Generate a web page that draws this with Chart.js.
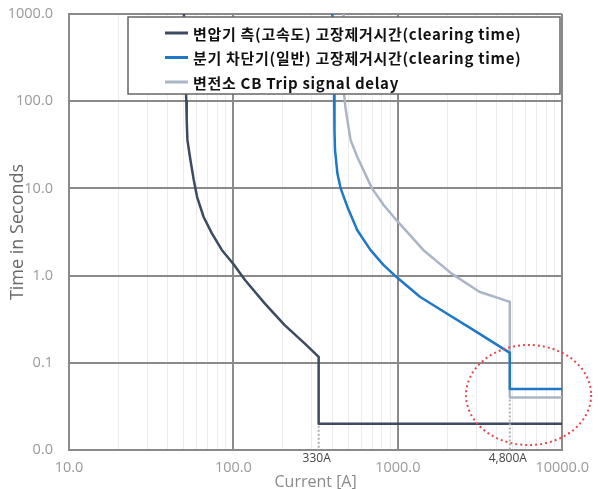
<!DOCTYPE html>
<html>
<head>
<meta charset="utf-8">
<script src="https://cdn.jsdelivr.net/npm/chart.js@4.4.1/dist/chart.umd.min.js"></script>
<style>
  html, body { margin: 0; padding: 0; background: #fff; }
</style>
</head>
<body>
<canvas id="tcc" width="598" height="489"></canvas>
<script>
// series names (legend)
const seriesLabels = [
  '변압기 측(고속도) 고장제거시간(clearing time)',
  '분기 차단기(일반) 고장제거시간(clearing time)',
  '변전소 CB Trip signal delay'
];

// [current A, time s]
const transformerCurve = [
  [50, 1000], [51.7, 100], [52, 60], [52.5, 36], [54.8, 21], [57.4, 12.5], [60.1, 8],
  [65.9, 4.7], [74, 3.05], [85, 1.97], [100, 1.36], [117.6, 0.89],
  [155, 0.48], [205, 0.27], [270, 0.168], [330, 0.117],
  [330, 0.02], [10000, 0.02]
];
const feederCurve = [
  [400, 1000], [410, 123], [412, 45], [415, 27.6], [429, 14.9], [449, 10], [493, 6.17],
  [566, 3.33], [681, 1.97], [820, 1.32], [986, 0.956], [1362, 0.573],
  [1973, 0.37], [2992, 0.2275], [4800, 0.13],
  [4800, 0.05], [10000, 0.05]
];
const tripDelayCurve = [
  [468, 1000], [471, 123], [480, 85], [493, 61], [516, 36], [566, 23.1], [697, 10],
  [820, 6.45], [1000, 4.15], [1428, 1.97], [2115, 1.06], [3131, 0.653],
  [4800, 0.5], [4800, 0.04], [10000, 0.04]
];

const xDecades = [10, 100, 1000, 10000];
const yDecades = [0.01, 0.1, 1, 10, 100, 1000];

// dotted current markers: current, lowest curve time at that current, label
const markerCurrents = [330, 4800];
const markerFrom = [0.02, 0.04];
const markerLabels = ['330A', '4,800A'];

// red dotted highlight around the low-time region (data bounds)
const highlightX = [2600, 15000];
const highlightY = [0.0114, 0.16];

const colors = ['#3d4b60', '#1f77c8', '#aab6c6'];
const toXY = arr => arr.map(p => ({ x: p[0], y: p[1] }));

const isDecade = v => Math.abs(Math.log10(v) - Math.round(Math.log10(v))) < 1e-6;

const legendBox = {
  id: 'legendBox',
  afterDatasetsDraw(chart) {
    const { ctx } = chart;
    ctx.save();
    ctx.fillStyle = '#fff';
    ctx.fillRect(128, 17, 432, 77);
    ctx.strokeStyle = '#666';
    ctx.lineWidth = 1.5;
    ctx.strokeRect(128, 17, 432, 77);
    ctx.font = 'bold 15px "Noto Sans CJK KR", "Noto Sans", sans-serif';
    ctx.letterSpacing = '0.7px';
    ctx.textBaseline = 'middle';
    chart.data.datasets.forEach((ds, i) => {
      const y = 33 + i * 24.5;
      ctx.strokeStyle = ds.borderColor;
      ctx.lineWidth = 3;
      ctx.beginPath();
      ctx.moveTo(165, y);
      ctx.lineTo(188, y);
      ctx.stroke();
      ctx.fillStyle = '#111';
      ctx.fillText(ds.label, 193, y + 1);
    });
    ctx.restore();
  }
};

const annotations = {
  id: 'annotations',
  afterDatasetsDraw(chart) {
    const { ctx, chartArea } = chart;
    const xs = chart.scales.x, ys = chart.scales.y;
    ctx.save();
    // markers
    markerCurrents.forEach((c, i) => {
      const px = xs.getPixelForValue(c);
      ctx.strokeStyle = '#b0b0b0';
      ctx.lineWidth = 2;
      ctx.setLineDash([2, 2]);
      ctx.beginPath();
      ctx.moveTo(px, ys.getPixelForValue(markerFrom[i]) + 2);
      ctx.lineTo(px, chartArea.bottom);
      ctx.stroke();
      ctx.setLineDash([]);
      ctx.fillStyle = '#444';
      ctx.font = '12px "Open Sans", sans-serif';
      ctx.textAlign = 'center';
      ctx.textBaseline = 'middle';
      ctx.fillText(markerLabels[i], px - 2, chartArea.bottom + 9);
    });
    // highlight ellipse
    const x1 = xs.getPixelForValue(highlightX[0]), x2 = xs.getPixelForValue(highlightX[1]);
    const y1 = ys.getPixelForValue(highlightY[1]), y2 = ys.getPixelForValue(highlightY[0]);
    ctx.strokeStyle = '#e8474a';
    ctx.lineWidth = 2;
    ctx.setLineDash([2, 3]);
    ctx.beginPath();
    ctx.ellipse((x1 + x2) / 2, (y1 + y2) / 2, (x2 - x1) / 2, (y2 - y1) / 2, 0, 0, Math.PI * 2);
    ctx.stroke();
    ctx.restore();
  }
};

new Chart(document.getElementById('tcc'), {
  type: 'line',
  data: {
    datasets: [
      { label: seriesLabels[0], data: toXY(transformerCurve), borderColor: colors[0] },
      { label: seriesLabels[1], data: toXY(feederCurve), borderColor: colors[1] },
      { label: seriesLabels[2], data: toXY(tripDelayCurve), borderColor: colors[2] }
    ]
  },
  options: {
    responsive: false,
    animation: false,
    devicePixelRatio: 1,
    layout: { padding: { left: 0, top: 14, right: 31, bottom: 0 } },
    elements: {
      line: { borderWidth: 2.5, tension: 0, fill: false, borderJoinStyle: 'round' },
      point: { radius: 0 }
    },
    plugins: {
      legend: { display: false },
      tooltip: { enabled: false }
    },
    scales: {
      x: {
        type: 'logarithmic',
        min: 10,
        max: 10000,
        afterBuildTicks(scale) {
          const t = [];
          for (let d = 10; d < 10000; d *= 10) {
            for (let m = 1; m < 10; m++) t.push({ value: d * m });
          }
          t.push({ value: 10000 });
          scale.ticks = t;
        },
        afterFit(scale) { scale.height = 39; },
        ticks: {
          autoSkip: false,
          maxRotation: 0,
          padding: 9,
          color: '#9a9a9a',
          font: { family: '"Open Sans", sans-serif', size: 14.5 },
          callback: v => (isDecade(v) && xDecades.includes(Math.round(v)) ? v.toFixed(1) : '')
        },
        grid: {
          drawTicks: false,
          color: c => (isDecade(c.tick.value) ? '#8a8a8a' : '#ececec'),
          lineWidth: c => (isDecade(c.tick.value) ? 2 : 1)
        },
        border: { color: '#8a8a8a', width: 2 },
        title: {
          display: true,
          text: 'Current [A]',
          color: '#8a8a8a',
          font: { family: '"Open Sans", sans-serif', size: 16 },
          padding: { top: 0, bottom: -3 }
        }
      },
      y: {
        type: 'logarithmic',
        min: 0.01,
        max: 1000,
        afterBuildTicks(scale) {
          scale.ticks = yDecades.map(v => ({ value: v }));
        },
        afterFit(scale) {
          scale.width = 69;
          scale.paddingTop = 8;
          scale.paddingBottom = 8;
        },
        ticks: {
          autoSkip: false,
          padding: 16,
          color: '#9a9a9a',
          font: { family: '"Open Sans", sans-serif', size: 14.5 },
          callback: v => v.toFixed(1)
        },
        grid: {
          drawTicks: false,
          color: '#8a8a8a',
          lineWidth: 2
        },
        border: { color: '#8a8a8a', width: 2 },
        title: {
          display: true,
          text: 'Time in Seconds',
          color: '#6a6a6a',
          font: { family: '"Open Sans", sans-serif', size: 18 },
          padding: { top: 7, bottom: 0 }
        }
      }
    }
  },
  plugins: [legendBox, annotations]
});
</script>
</body>
</html>
